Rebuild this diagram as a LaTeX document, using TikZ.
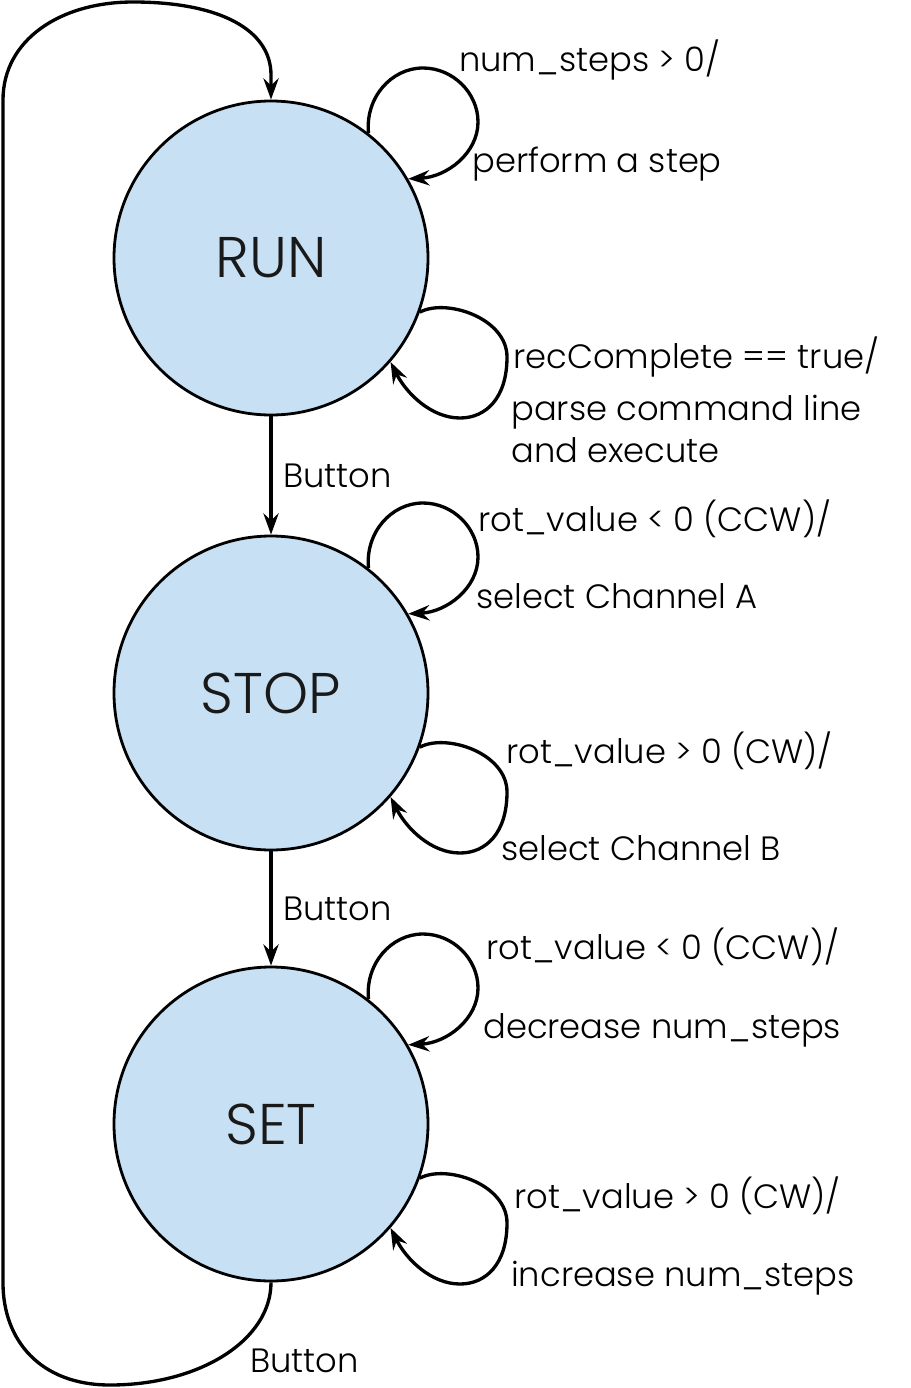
\documentclass[tikz,border=0pt]{standalone}
\usepackage{fontspec}
\IfFontExistsTF{Poppins Light}{\setmainfont{Poppins Light}}{\setmainfont{Poppins}}
\usetikzlibrary{arrows.meta}
\definecolor{statefill}{RGB}{199,224,244}
\begin{document}
\begin{tikzpicture}[x=0.75pt,y=-0.75pt,
  state/.style={circle,draw=black,line width=2.1pt,fill=statefill,minimum size=235.5pt,inner sep=0pt,font=\fontsize{43}{47}\selectfont,text=black!90},
  arr/.style={line width=2.5pt,-{Stealth[length=16pt,width=11.5pt,inset=5.5pt]}},
  lbl/.style={anchor=base west,inner sep=0pt,font=\fontsize{25.3}{29}\selectfont}]
\useasboundingbox (0,0) rectangle (910,1388);

\node[state] (run) at (271,258) {RUN};
\node[state] (stop) at (271,693) {STOP};
\node[state] (set) at (271,1124) {SET};

\draw[arr] (run) -- (stop);
\draw[arr] (stop) -- (set);

\foreach \s in {run,stop,set}{
  \draw[arr,shift={(\s.center)}] (\s.52) .. controls (94,-160) and (120,-190) .. (152,-190)
     .. controls (182,-190) and (207,-165) .. (207,-136)
     .. controls (207,-105) and (176,-81) .. (\s.30);
  \draw[arr,shift={(\s.center)}] (\s.-20) .. controls (175,40) and (236,60) .. (236,99)
     .. controls (236,140) and (215,160) .. (189,160)
     .. controls (160,160) and (135,135) .. (\s.-41.5);
}

\draw[arr] (set.south) .. controls (271,1340) and (200,1385) .. (110,1385)
   .. controls (40,1385) and (3,1340) .. (3,1283) -- (3,100)
   .. controls (3,40) and (60,2) .. (133,2)
   .. controls (220,2) and (271,30) .. (271,75) -- (run.north);

\node[lbl] (l1) at (459,72) {num\_steps > 0/};
\node[lbl] (l2) at (472,172) {perform a step};
\node[lbl] (l3) at (513,368) {recComplete == true/};
\node[lbl] (l4) at (511,420) {parse command line};
\node[lbl] (l5) at (511,462) {and execute};
\node[lbl] (b1) at (283,487) {Button};
\node[lbl] (l6) at (478,531) {rot\_value < 0 (CCW)/};
\node[lbl] (l7) at (476,608) {select Channel A};
\node[lbl] (l8) at (506,763) {rot\_value > 0 (CW)/};
\node[lbl] (l9) at (501,860) {select Channel B};
\node[lbl] (b2) at (283,920) {Button};
\node[lbl] (l10) at (486,959) {rot\_value < 0 (CCW)/};
\node[lbl] (l11) at (483,1038) {decrease num\_steps};
\node[lbl] (l12) at (514,1208) {rot\_value > 0 (CW)/};
\node[lbl] (l13) at (511,1286) {increase num\_steps};
\node[lbl] (b3) at (250,1372) {Button};
\end{tikzpicture}
\end{document}
